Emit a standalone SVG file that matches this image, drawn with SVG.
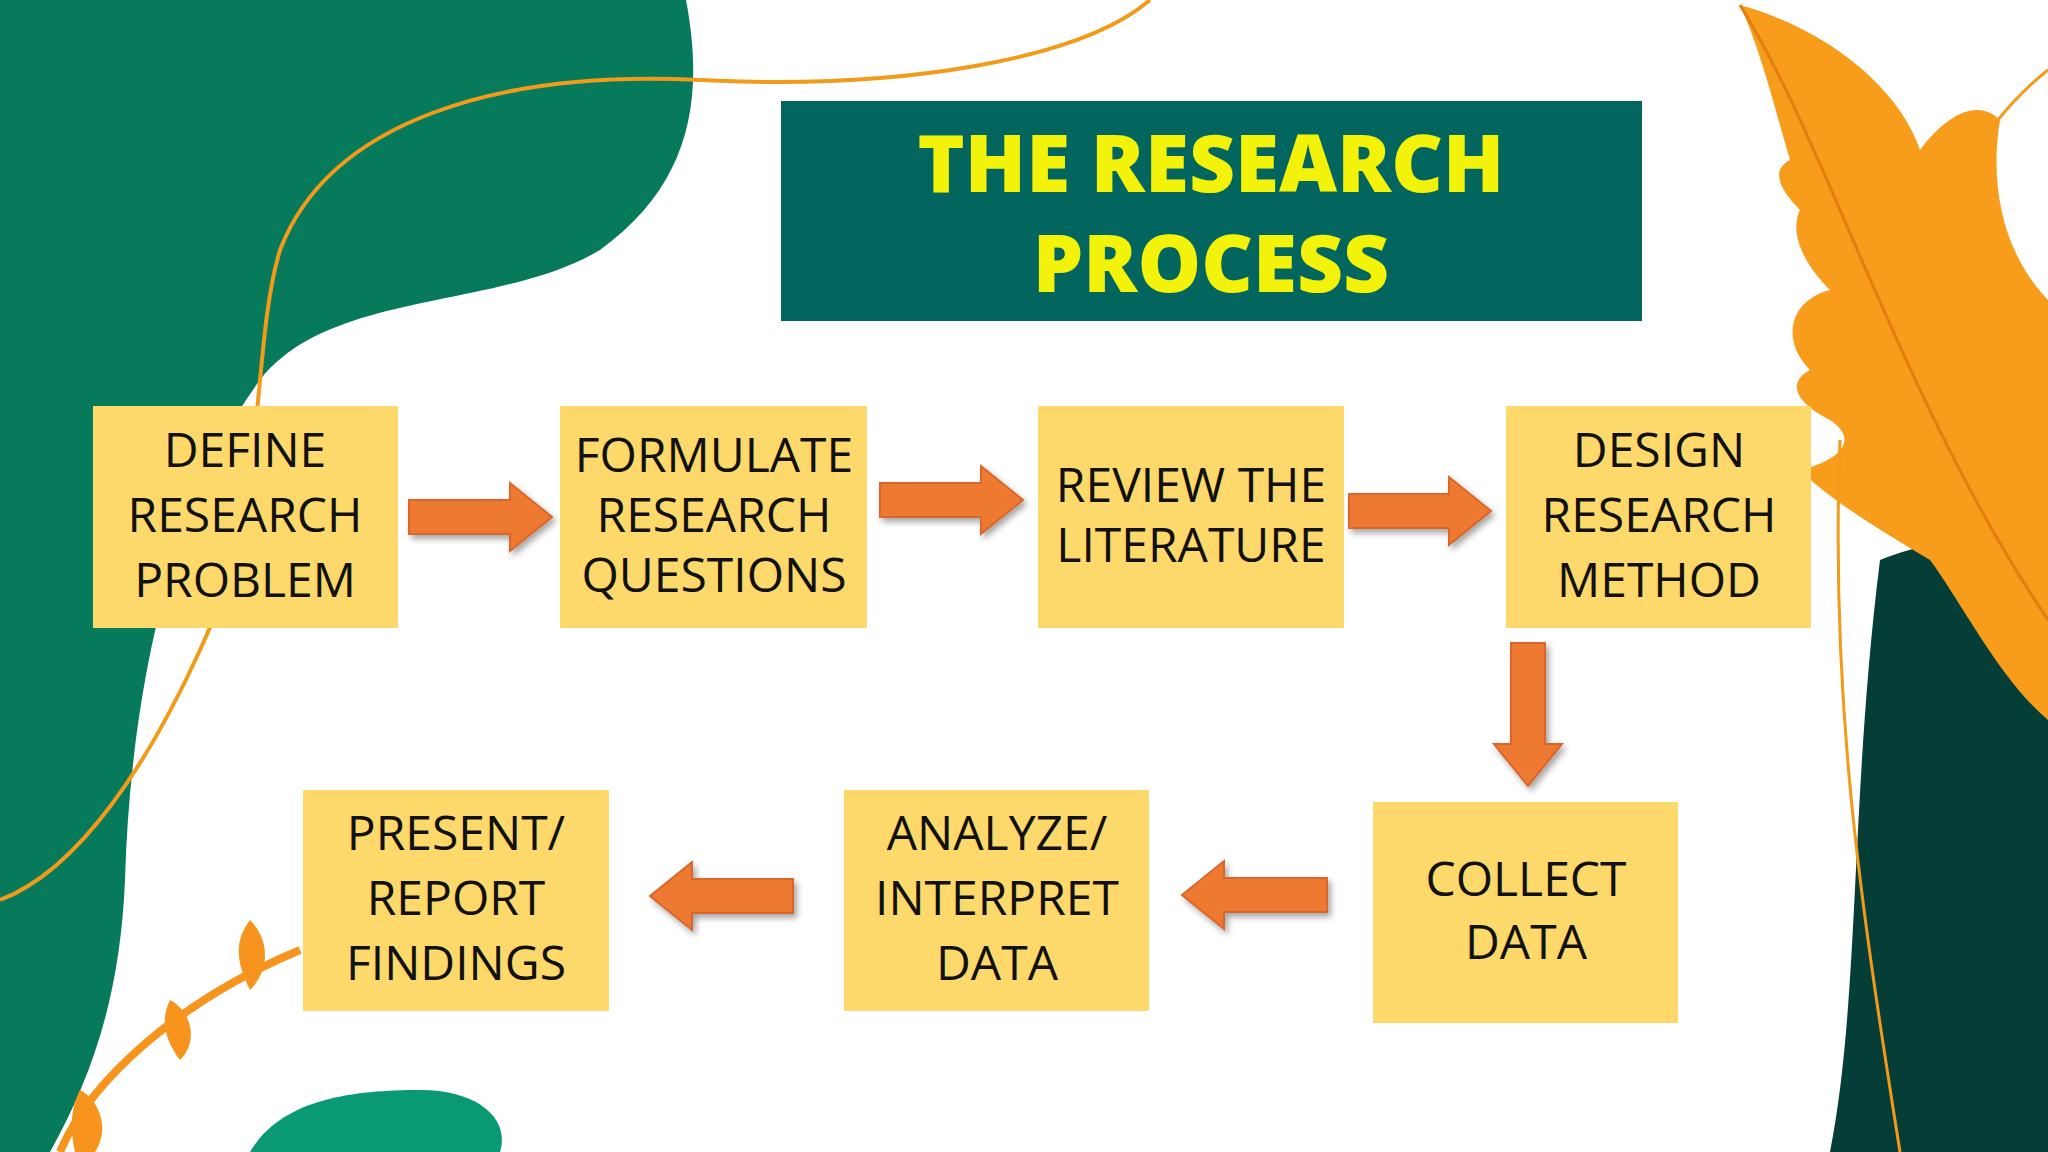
<svg xmlns="http://www.w3.org/2000/svg" width="2048" height="1152" viewBox="0 0 2048 1152">
<defs>
<style>
.box{fill:#fdd96c}
.t{font-family:"Open Sans","Liberation Sans",sans-serif;font-size:48px;fill:#111;text-anchor:middle}
.arr{fill:#ee7a30;stroke:#d9662a;stroke-width:2}
.ttl{font-family:"Open Sans","Liberation Sans",sans-serif;font-weight:800;font-size:80px;fill:#f2f20a;text-anchor:middle}
</style>
<filter id="sh" x="-10%" y="-10%" width="130%" height="130%"><feDropShadow dx="3" dy="4" stdDeviation="3" flood-opacity="0.35"/></filter>
</defs>
<rect width="2048" height="1152" fill="#fff"/>
<path d="M0 0H686C705 100 690 185 600 250C500 310 330 290 260 380C170 500 130 700 125 880C120 1000 90 1080 50 1152H0Z" fill="#067a5b"/>
<path d="M1880 560C1930 540 2000 530 2048 540V1152H1830C1860 1000 1850 800 1880 560Z" fill="#053d37"/>
<path d="M1740 5C1830 30 1900 90 1920 150C1950 110 1980 100 2000 120C1990 180 2000 250 2048 300V720C2000 680 1960 600 1930 560C1880 530 1830 500 1800 470C1840 460 1860 440 1830 420C1790 400 1790 380 1810 370C1780 340 1790 300 1830 290C1800 260 1790 230 1800 210C1780 190 1770 170 1790 160C1770 90 1760 50 1740 5Z" fill="#f89c1c"/>
<path d="M1740 5C1830 150 1900 400 2048 620" fill="none" stroke="#e27d10" stroke-width="3"/>
<path d="M1150 0C1080 60 900 90 700 80C500 70 330 120 280 250C250 350 270 500 200 650C150 760 80 870 0 900" fill="none" stroke="#f29a1a" stroke-width="4"/>
<path d="M1840 440C1830 700 1860 900 1900 1152" fill="none" stroke="#f29a1a" stroke-width="3"/>
<path d="M2048 70C2010 100 1980 140 1960 180" fill="none" stroke="#f29a1a" stroke-width="3"/>
<path d="M250 1152C280 1100 350 1090 420 1090C480 1090 510 1120 500 1152Z" fill="#0a9a73"/>
<path d="M60 1152C90 1080 180 1000 300 950" fill="none" stroke="#f7941d" stroke-width="8"/>
<path d="M250 920C270 940 270 970 250 990C235 960 235 940 250 920Z M170 1000C190 1010 200 1040 180 1060C165 1040 160 1020 170 1000Z M80 1090C100 1100 110 1130 95 1152H75C70 1130 70 1110 80 1090Z" fill="#f7941d"/>
<g id="title"><rect x="781" y="101" width="861" height="220" fill="#02665f"/>
<text class="ttl" x="1211" y="192">THE RESEARCH</text><text class="ttl" x="1211" y="292">PROCESS</text></g>
<g id="n1"><rect class="box" x="93" y="406" width="305" height="222"/><text class="t" x="245" y="467">DEFINE</text><text class="t" x="245" y="532">RESEARCH</text><text class="t" x="245" y="597">PROBLEM</text></g>
<g id="n2"><rect class="box" x="560" y="406" width="307" height="222"/><text class="t" x="714" y="472">FORMULATE</text><text class="t" x="714" y="532">RESEARCH</text><text class="t" x="714" y="592">QUESTIONS</text></g>
<g id="n3"><rect class="box" x="1038" y="406" width="306" height="222"/><text class="t" x="1191" y="502">REVIEW THE</text><text class="t" x="1191" y="562">LITERATURE</text></g>
<g id="n4"><rect class="box" x="1506" y="406" width="305" height="222"/><text class="t" x="1659" y="467">DESIGN</text><text class="t" x="1659" y="532">RESEARCH</text><text class="t" x="1659" y="597">METHOD</text></g>
<g id="n5"><rect class="box" x="1373" y="802" width="305" height="221"/><text class="t" x="1526" y="896">COLLECT</text><text class="t" x="1526" y="959">DATA</text></g>
<g id="n6"><rect class="box" x="844" y="790" width="305" height="221"/><text class="t" x="997" y="850">ANALYZE/</text><text class="t" x="997" y="915">INTERPRET</text><text class="t" x="997" y="980">DATA</text></g>
<g id="n7"><rect class="box" x="303" y="790" width="306" height="221"/><text class="t" x="456" y="850">PRESENT/</text><text class="t" x="456" y="915">REPORT</text><text class="t" x="456" y="980">FINDINGS</text></g>
<g id="connectors" filter="url(#sh)">
<path class="arr" d="M409 500H510V483L552 517L510 551V534H409Z"/>
<path class="arr" d="M880 483H981V466L1023 500L981 534V517H880Z"/>
<path class="arr" d="M1349 494H1449V477L1491 511L1449 545V528H1349Z"/>
<path class="arr" d="M1511 643V744H1494L1528 786L1562 744H1545V643Z"/>
<path class="arr" d="M1327 878H1224V861L1182 895L1224 929V912H1327Z"/>
<path class="arr" d="M793 879H692V862L650 896L692 930V913H793Z"/>
</g>
</svg>
